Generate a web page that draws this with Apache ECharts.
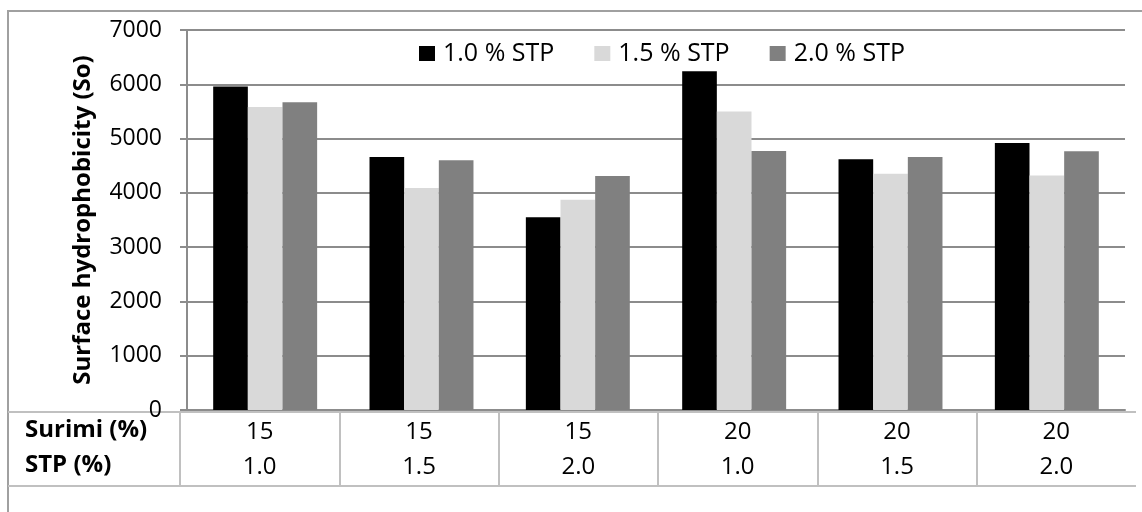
<!DOCTYPE html>
<html>
<head>
<meta charset="utf-8">
<script src="https://cdn.jsdelivr.net/npm/echarts@6/dist/echarts.min.js"></script>
<style>
  html, body { margin: 0; padding: 0; background: #ffffff; }
  #chart { width: 1142px; height: 512px; }
</style>
</head>
<body>
<div id="chart"></div>
<script>
// Table rows under the plot
const surimi = ['15', '15', '15', '20', '20', '20'];
const stp = ['1.0', '1.5', '2.0', '1.0', '1.5', '2.0'];
const rowHeaders = ['Surimi (%)', 'STP (%)'];

// Series
const seriesNames = ['1.0 % STP', '1.5 % STP', '2.0 % STP'];
const stp10 = [5960, 4660, 3550, 6240, 4620, 4920];
const stp15 = [5580, 4090, 3875, 5500, 4350, 4320];
const stp20 = [5670, 4600, 4310, 4770, 4660, 4765];

// Y axis
const yMin = 0, yMax = 7000, yStep = 1000;
const yTitle = 'Surface hydrophobicity (So)';

const categories = surimi.map((s, i) => s + '\n' + stp[i]);
const colors = ['#000000', '#d9d9d9', '#808080'];
const FONT = '"Open Sans", "Noto Sans", sans-serif';
const gridGray = '#8c8c8c';
const tableGray = '#c0c0c0';

const chart = echarts.init(document.getElementById('chart'), null, { renderer: 'canvas' });

chart.setOption({
  animation: false,
  backgroundColor: '#ffffff',
  textStyle: { fontFamily: FONT },
  legend: {
    left: 419,
    top: 41,
    padding: 0,
    itemWidth: 16,
    itemHeight: 15,
    itemGap: 40,
    icon: 'rect',
    textStyle: { fontSize: 25, color: '#000', fontFamily: FONT, padding: [0, 0, 0, 3] },
    data: seriesNames
  },
  grid: [
    { left: 187, right: 17, top: 30, height: 380 },
    { left: 180, right: 6, top: 412, height: 74 }
  ],
  xAxis: [
    {
      type: 'category',
      gridIndex: 0,
      data: categories,
      axisLine: { show: true, lineStyle: { color: gridGray, width: 2 } },
      axisTick: { show: false },
      axisLabel: { show: false }
    },
    {
      type: 'category',
      gridIndex: 1,
      position: 'top',
      data: categories,
      axisLine: { show: false },
      axisTick: { show: false },
      splitLine: { show: true, showMaxLine: false, lineStyle: { color: tableGray, width: 2 } },
      axisLabel: {
        inside: true,
        margin: 3,
        fontSize: 24,
        lineHeight: 35,
        color: '#000',
        fontFamily: FONT,
        align: 'center'
      }
    }
  ],
  yAxis: [
    {
      type: 'value',
      gridIndex: 0,
      min: yMin,
      max: yMax,
      interval: yStep,
      name: yTitle,
      nameLocation: 'middle',
      nameRotate: 90,
      nameGap: 92,
      nameTextStyle: { fontSize: 24, fontWeight: 'bold', color: '#000', fontFamily: FONT },
      axisLine: { show: true, lineStyle: { color: gridGray, width: 2 } },
      axisTick: { show: true, length: 7, lineStyle: { color: gridGray, width: 2 } },
      axisLabel: {
        fontSize: 23,
        color: '#000',
        margin: 25,
        fontFamily: FONT,
        formatter: v => String(v)
      },
      splitLine: { show: true, lineStyle: { color: gridGray, width: 2 } }
    },
    {
      type: 'value',
      gridIndex: 1,
      min: 0,
      max: 1,
      show: false
    }
  ],
  series: [stp10, stp15, stp20].map((vals, k) => ({
    name: seriesNames[k],
    type: 'bar',
    xAxisIndex: 0,
    yAxisIndex: 0,
    data: vals,
    barGap: '0%',
    barCategoryGap: '33.5%',
    itemStyle: { color: colors[k] }
  })),
  graphic: [
    // outer frame
    {
      type: 'rect',
      shape: { x: 8, y: 11, width: 1150, height: 520 },
      style: { fill: 'none', stroke: '#a0a0a0', lineWidth: 2 },
      silent: true
    },
    // table rules
    {
      type: 'line',
      shape: { x1: 8, y1: 412, x2: 1136, y2: 412 },
      style: { stroke: tableGray, lineWidth: 2 },
      silent: true
    },
    {
      type: 'line',
      shape: { x1: 8, y1: 486, x2: 1136, y2: 486 },
      style: { stroke: tableGray, lineWidth: 2 },
      silent: true
    },
    // row headers
    {
      type: 'text',
      left: 25,
      top: 418,
      style: { text: rowHeaders[0], font: 'bold 24px ' + FONT, fill: '#000' },
      silent: true
    },
    {
      type: 'text',
      left: 25,
      top: 453,
      style: { text: rowHeaders[1], font: 'bold 24px ' + FONT, fill: '#000' },
      silent: true
    }
  ]
});
</script>
</body>
</html>
